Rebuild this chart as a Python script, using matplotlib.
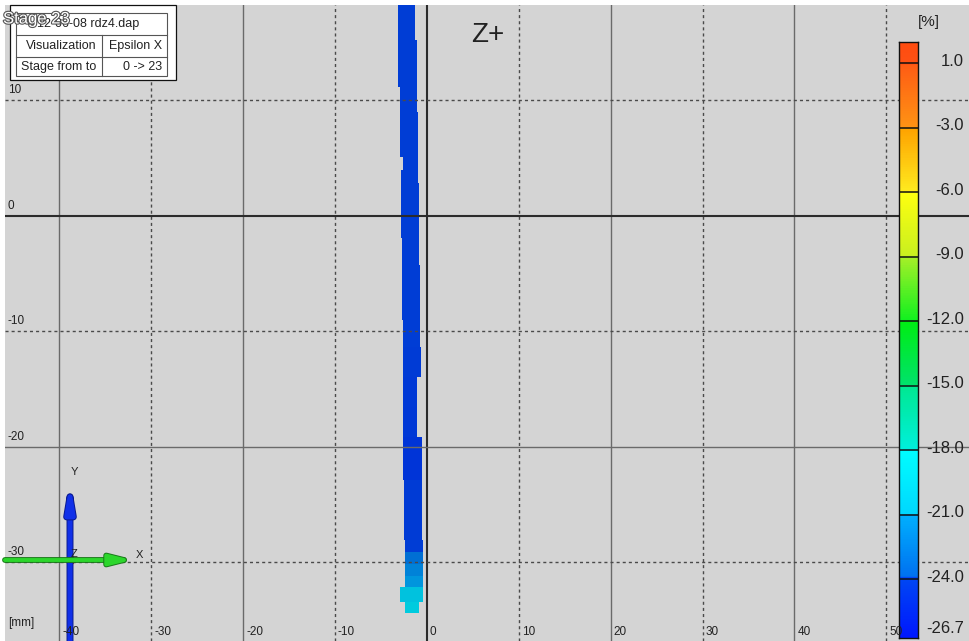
import numpy as np
import matplotlib
matplotlib.use("Agg")
import matplotlib.pyplot as plt
from matplotlib.colors import LinearSegmentedColormap
import matplotlib.patheffects as pe

FONT = ['Liberation Sans Narrow', 'Liberation Sans', 'DejaVu Sans']
plt.rcParams['font.family'] = FONT

# ---- view extent and grid (mm) ----
x_ticks = [-40, -30, -20, -10, 0, 10, 20, 30, 40, 50]
y_ticks = [-30, -20, -10, 0, 10]
x_range = (-45.9, 59.1)
y_range = (-36.84, 18.23)

# ---- strain legend [%] ----
legend_values = [-26.7, -24.0, -21.0, -18.0, -15.0, -12.0, -9.0, -6.0, -3.0, 1.0]
legend_slots = [0.0, 0.917, 1.917, 2.917, 3.917, 4.917, 5.917, 6.917, 7.917, 8.917]
legend_top = 9.25
legend_nodes = [
    (0.0, '#0018ff'), (0.917, '#0048f4'),
    (0.917, '#0070f0'), (1.917, '#00b2ff'),
    (1.917, '#00d8ff'), (2.917, '#00ffff'),
    (2.917, '#00f0dc'), (3.917, '#00e890'),
    (3.917, '#00e26c'), (4.917, '#00ee12'),
    (4.917, '#10f020'), (5.917, '#a8f028'),
    (5.917, '#c8f020'), (6.917, '#ffff10'),
    (6.917, '#ffec20'), (7.917, '#ffa200'),
    (7.917, '#ff9414'), (8.917, '#ff5c14'),
    (8.917, '#ff5214'), (9.25, '#ff4c10'),
]

# ---- measured strip: rows of the specimen edge (mm) with epsilon X [%] ----
strip_y_top = [19.0, 15.19, 11.13, 8.96, 5.06, 3.94, 2.81, -1.95, -4.29, -9.05,
               -11.39, -13.98, -16.58, -19.18, -22.9, -28.1, -29.13, -30.17, -31.21,
               -32.16, -33.46]
strip_y_bot = [15.19, 11.13, 8.96, 5.06, 3.94, 2.81, -1.95, -4.29, -9.05, -11.39,
               -13.98, -16.58, -19.18, -22.9, -28.1, -29.13, -30.17, -31.21, -32.16,
               -33.46, -34.42]
strip_x_left = [-3.16, -3.16, -2.94, -2.94, -2.61, -2.86, -2.86, -2.75, -2.75, -2.64,
                -2.64, -2.64, -2.58, -2.58, -2.47, -2.39, -2.39, -2.39, -2.39,
                -2.94, -2.39]
strip_x_right = [-1.31, -1.12, -1.12, -1.01, -1.01, -1.01, -0.90, -0.90, -0.76, -0.76,
                 -0.65, -1.12, -1.12, -0.51, -0.51, -0.44, -0.44, -0.44, -0.44,
                 -0.47, -0.87]
strip_eps = [-24.1, -24.05, -24.05, -24.05, -24.1, -24.1, -24.05, -24.1, -24.05, -24.1,
             -24.2, -24.3, -24.4, -24.6, -24.2, -24.05, -23.2, -22.2, -21.3,
             -20.4, -19.6]

BG = '#d4d4d4'
TXT = '#222222'

cmap = LinearSegmentedColormap.from_list(
    'aramis', [(s / legend_top, c) for s, c in legend_nodes])


def eps_to_rgb(values, shade=0.87):
    slots = np.interp(values, legend_values, legend_slots)
    rgba = cmap(slots / legend_top)
    rgba[:, :3] *= shade
    return rgba


fig = plt.figure(figsize=(9.7, 6.41), dpi=100, facecolor='white')
W, H = 970, 641

# ---- main view ----
ax = fig.add_axes([5 / W, 0, 965 / W, 636 / H])
ax.set_facecolor(BG)
ax.set_xlim(*x_range)
ax.set_ylim(*y_range)
for s in ax.spines.values():
    s.set_visible(False)
ax.set_xticks([])
ax.set_yticks([])

top = np.array(strip_y_top)
bot = np.array(strip_y_bot)
left = np.array(strip_x_left)
right = np.array(strip_x_right)
ax.bar(left, top - bot, width=right - left, bottom=bot, align='edge',
       color=eps_to_rgb(strip_eps), edgecolor='none', linewidth=0, zorder=1)


def grid_style(v):
    if v == 0:
        return dict(color='#2b2b2b', lw=1.5, ls='-')
    if v % 20 == 0:
        return dict(color='#6a6a6a', lw=1.0, ls='-')
    return dict(color='#4a4a4a', lw=1.0, ls=(0, (2.2, 2.2)))


for v in x_ticks:
    ax.axvline(v, zorder=2, **grid_style(v))
for v in y_ticks:
    ax.axhline(v, zorder=2, **grid_style(v))

# ---- colour legend ----
cax = fig.add_axes([899.3 / W, (H - 638.3) / H, 18.4 / W, 596.6 / H])
grad = np.linspace(0, legend_top, 800)[:, None]
cax.imshow(grad, aspect='auto', origin='lower', cmap=cmap,
           vmin=0, vmax=legend_top, extent=[0, 1, 0, legend_top])
cax.set_xlim(0, 1)
cax.set_ylim(0, legend_top)
cax.set_xticks([])
cax.set_yticks([])
for s in cax.spines.values():
    s.set_color('#111111')
    s.set_linewidth(1.0)
for s in legend_slots[1:]:
    cax.axhline(s, color='#111111', lw=1.1)
for v, s in zip(legend_values, legend_slots):
    cax.annotate(f"{v:.1f}", xy=(1, s), xycoords=('axes fraction', 'data'),
                 xytext=(46, 2), textcoords='offset pixels', ha='right',
                 va='bottom' if s == 0 else 'center', fontsize=12, color=TXT,
                 annotation_clip=False)

# ---- overlay in pixel units: info box, view label, coordinate triad ----
ov = fig.add_axes([0, 0, 1, 1])
ov.set_xlim(0, W)
ov.set_ylim(H, 0)
ov.axis('off')
ov.patch.set_visible(False)

ov.add_patch(plt.Rectangle((10, 5), 166, 75, facecolor='white',
                           edgecolor='#111111', lw=0.9))
ov.add_patch(plt.Rectangle((16, 12.7), 150.7, 63.3, facecolor='white',
                           edgecolor='#555555', lw=0.8))
ov.plot([16, 166.7], [35, 35], color='#555555', lw=0.8)
ov.plot([16, 166.7], [56.7, 56.7], color='#555555', lw=0.8)
ov.plot([101.7, 101.7], [35, 76], color='#555555', lw=0.8)
ov.text(88, 24.5, "12-06-08 rdz4.dap", ha='center', va='center', fontsize=9, color=TXT)
ov.text(96.7, 46, "Visualization", ha='right', va='center', fontsize=9, color=TXT)
ov.text(161.7, 46, "Epsilon X", ha='right', va='center', fontsize=9, color=TXT)
ov.text(96.7, 67, "Stage from to", ha='right', va='center', fontsize=9, color=TXT)
ov.text(161.7, 67, "0 -> 23", ha='right', va='center', fontsize=9, color=TXT)
ov.text(3, 19, "Stage 23", ha='left', va='center', fontsize=12, color='white',
        path_effects=[pe.withStroke(linewidth=1.6, foreground='#555555')])

ov.text(488, 35, "Z+", ha='center', va='center', fontsize=20, color=TXT)
ov.text(929, 22, "[%]", ha='center', va='center', fontsize=11, color=TXT)
ov.text(8, 623, "[mm]", ha='left', va='center', fontsize=8.5, color=TXT)

# coordinate triad
ya = ov.annotate('', xy=(70, 481.7), xytext=(70, 650),
                 arrowprops=dict(arrowstyle='-|>,head_length=0.9,head_width=0.15',
                                 color='#1030e8', lw=3.6, mutation_scale=16,
                                 shrinkA=0, shrinkB=0))
ya.arrow_patch.set_path_effects([pe.Stroke(linewidth=5.0, foreground='#0a1a90'), pe.Normal()])
xa = ov.annotate('', xy=(132, 560), xytext=(5, 560),
                 arrowprops=dict(arrowstyle='-|>,head_length=0.8,head_width=0.2',
                                 color='#2cd62c', lw=2.8, mutation_scale=16,
                                 shrinkA=0, shrinkB=0))
xa.arrow_patch.set_path_effects([pe.Stroke(linewidth=4.2, foreground='#1a7a1a'), pe.Normal()])
ov.plot([70], [560], 'o', ms=6, color='#d03818', mec='#a02010', mew=0.6)
ov.text(74, 472, "Y", ha='center', va='center', fontsize=8, color=TXT)
ov.text(139, 555, "X", ha='center', va='center', fontsize=8, color=TXT)
ov.text(74, 554, "Z", ha='center', va='center', fontsize=8, color=TXT)

# grid labels, drawn above the triad
for v in x_ticks:
    ov.annotate(f"{v}", xy=(v, 0), xycoords=(ax.transData, ax.transAxes),
                xytext=(3, 3), textcoords='offset pixels', ha='left', va='bottom',
                fontsize=8.5, color=TXT, zorder=5)
for v in y_ticks:
    ov.annotate(f"{v}", xy=(0, v), xycoords=(ax.transAxes, ax.transData),
                xytext=(3, 4), textcoords='offset pixels', ha='left', va='bottom',
                fontsize=8.5, color=TXT, zorder=5)

fig.savefig("out.png", dpi=100, facecolor='white')
